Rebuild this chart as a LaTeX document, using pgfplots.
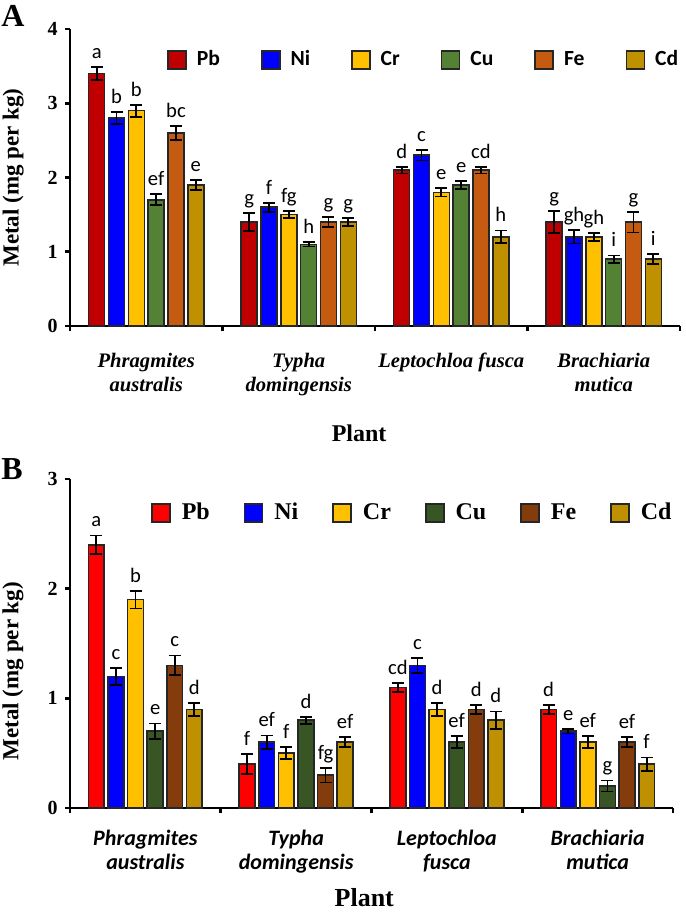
\documentclass[border=0pt]{standalone}
\usepackage{pgfplots}
\pgfplotsset{compat=1.18}
\usepackage{pgfplotstable}
\usepackage{fontspec}
\setmainfont{Liberation Serif}
\newfontfamily\carlito{Carlito}

\definecolor{aPb}{HTML}{C00000}
\definecolor{aNi}{HTML}{0000FF}
\definecolor{aCr}{HTML}{FFC000}
\definecolor{aCu}{HTML}{548235}
\definecolor{aFe}{HTML}{C55A11}
\definecolor{aCd}{HTML}{BF9000}
\definecolor{bPb}{HTML}{FF0000}
\definecolor{bNi}{HTML}{0000FF}
\definecolor{bCr}{HTML}{FFC000}
\definecolor{bCu}{HTML}{375623}
\definecolor{bFe}{HTML}{843C0C}
\definecolor{bCd}{HTML}{BF9000}

\pgfplotstableread{
x Pb ePb lPb Ni eNi lNi Cr eCr lCr Cu eCu lCu Fe eFe lFe Cd eCd lCd
0 3.4 0.085 a  2.8 0.08 b  2.9 0.08 b  1.7 0.075 ef 2.6 0.095 bc 1.9 0.065 e
1 1.4 0.12  g  1.6 0.06 f  1.5 0.05 fg 1.1 0.03  h  1.4 0.07  g  1.4 0.05  g
2 2.1 0.045 d  2.3 0.07 c  1.8 0.055 e 1.9 0.05  e  2.1 0.045 cd 1.2 0.085 h
3 1.4 0.145 g  1.2 0.09 gh 1.2 0.05 gh 0.9 0.05  i  1.4 0.14  g  0.9 0.065 i
}\dataA

\pgfplotstableread{
x Pb ePb lPb Ni eNi lNi Cr eCr lCr Cu eCu lCu Fe eFe lFe Cd eCd lCd
0 2.4 0.085 a  1.2 0.08 c  1.9 0.08 b  0.7 0.07 e  1.3 0.09 c  0.9 0.06 d
1 0.4 0.09  f  0.6 0.062 ef 0.5 0.053 f 0.8 0.033 d 0.3 0.067 fg 0.6 0.045 ef
2 1.1 0.04  cd 1.3 0.07 c  0.9 0.06 d  0.6 0.056 ef 0.9 0.04 d  0.8 0.08 d
3 0.9 0.04  d  0.7 0.02 e  0.6 0.053 ef 0.2 0.05 g 0.6 0.045 ef 0.4 0.06 f
}\dataB

% #1 table, #2 column, #3 colour, #4 offset of the bar within its group
\newcommand{\barpair}[4]{%
  \addplot[ybar, bar width=0.105, bar shift=0pt, fill=#3, draw=black!85, line width=0.8pt,
    error bars/.cd, y dir=both, y explicit,
    error bar style={black, line width=0.9pt},
    error mark options={rotate=90, black, line width=0.9pt, mark size=3pt}]
    table[x expr={\thisrow{x}+#4}, y=#2, y error=e#2] {#1};
  \addplot[ybar, bar width=0.105, bar shift=0pt, draw=none, fill=none, forget plot,
    nodes near coords, point meta=explicit symbolic,
    every node near coord/.append style={font=\carlito\fontsize{10.3}{11}\selectfont, anchor=base, inner sep=0pt, yshift=4.3pt, text=black}]
    table[x expr={\thisrow{x}+#4}, y expr={\thisrow{#2}+\thisrow{e#2}}, meta=l#2] {#1};
}

\pgfplotsset{
  panel/.style={
    scale only axis,
    xmin=-0.5, xmax=3.5, ymin=0,
    axis x line*=bottom, axis y line*=left,
    axis line style={line width=1.4pt, black},
    xtick={-0.5,0.5,1.5,2.5,3.5}, xticklabels={},
    extra x ticks={0,1,2,3},
    extra x tick style={major tick length=0pt, tick style={draw=none}},
    tick align=outside, major tick length=2.6pt,
    tick style={line width=1.4pt, black},
    /pgf/number format/assume math mode=true,
    yticklabel style={font=\bfseries\fontsize{10}{10}\selectfont},
    ylabel={Metal (mg per kg)},
    ylabel style={font=\bfseries\fontsize{11.5}{12}\selectfont, anchor=center},
    xlabel={Plant},
    legend columns=6,
    legend image code/.code={\draw[#1, draw=black!85, line width=0.8pt] (0pt,-4.5pt) rectangle (9pt,4.5pt);},
  }
}

\begin{document}
\begin{tikzpicture}
\path[use as bounding box] (0pt,0pt) rectangle (342.5pt,-457pt);

\node[font=\bfseries\fontsize{16}{16}\selectfont] at (6.5pt,-8pt) {A};
\node[font=\bfseries\fontsize{16}{16}\selectfont] at (6pt,-234.5pt) {B};

\begin{axis}[panel,
  at={(35pt,-163pt)}, anchor=south west,
  width=305pt, height=148.5pt, ymax=4, ytick={0,1,2,3,4},
  extra x tick labels={{Phragmites\\australis},{Typha\\domingensis},{Leptochloa fusca},{Brachiaria\\mutica}},
  extra x tick style={tick label style={font=\bfseries\itshape\fontsize{10.3}{12}\selectfont, align=center, anchor=north, yshift=-10pt}},
  ylabel style={at={(axis description cs:-0.093,0.5)}},
  xlabel style={font=\bfseries\fontsize{12}{12}\selectfont, at={(axis description cs:0.474,-0.36)}, anchor=center},
  legend style={draw=none, fill=none, at={(axis description cs:0.149,0.896)}, anchor=west,
    font=\carlito\bfseries\fontsize{10.8}{12}\selectfont,
    /tikz/every even column/.append style={column sep=18.5pt},
    /tikz/every odd column/.append style={column sep=3pt}},
]
\barpair{\dataA}{Pb}{aPb}{-0.325}
\barpair{\dataA}{Ni}{aNi}{-0.195}
\barpair{\dataA}{Cr}{aCr}{-0.065}
\barpair{\dataA}{Cu}{aCu}{0.065}
\barpair{\dataA}{Fe}{aFe}{0.195}
\barpair{\dataA}{Cd}{aCd}{0.325}
\legend{Pb,Ni,Cr,Cu,Fe,Cd}
\end{axis}

\begin{axis}[panel,
  at={(35pt,-404pt)}, anchor=south west,
  width=301.5pt, height=164.5pt, ymax=3, ytick={0,1,2,3},
  extra x tick labels={{Phragmites\\australis},{Typha\\domingensis},{Leptochloa\\fusca},{Brachiaria\\mutica}},
  extra x tick style={tick label style={font=\carlito\bfseries\itshape\fontsize{11}{12}\selectfont, align=center, anchor=north, yshift=-7.5pt}},
  ylabel style={at={(axis description cs:-0.0945,0.416)}},
  xlabel style={font=\bfseries\fontsize{13}{13}\selectfont, at={(axis description cs:0.488,-0.2736)}, anchor=center},
  legend style={draw=none, fill=none, at={(axis description cs:0.124,0.897)}, anchor=west,
    font=\bfseries\fontsize{12}{13}\selectfont,
    /tikz/every even column/.append style={column sep=15pt},
    /tikz/every odd column/.append style={column sep=3.5pt}},
]
\barpair{\dataB}{Pb}{bPb}{-0.325}
\barpair{\dataB}{Ni}{bNi}{-0.195}
\barpair{\dataB}{Cr}{bCr}{-0.065}
\barpair{\dataB}{Cu}{bCu}{0.065}
\barpair{\dataB}{Fe}{bFe}{0.195}
\barpair{\dataB}{Cd}{bCd}{0.325}
\legend{Pb,Ni,Cr,Cu,Fe,Cd}
\end{axis}
\end{tikzpicture}
\end{document}
